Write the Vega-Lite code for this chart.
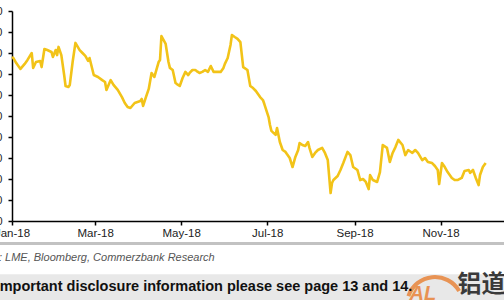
{
  "$schema": "https://vega.github.io/schema/vega-lite/v6.json",
  "width": 492,
  "height": 210,
  "autosize": {"type": "none"},
  "padding": {"left": 12, "top": 11, "right": 0, "bottom": 79},
  "background": "white",
  "config": {"view": {"stroke": null}, "font": "Liberation Sans"},
  "resolve": {"axis": {"x": "independent", "y": "independent"}},
  "layer": [
    {
      "data": {"values": [{}]},
      "mark": {"type": "rect", "fill": "#e8e8e8", "clip": false},
      "encoding": {
        "x": {"datum": {"year": 2017, "month": 11, "date": 1, "utc": true}, "type": "temporal", "axis": null},
        "x2": {"datum": {"year": 2019, "month": 1, "date": 31, "utc": true}},
        "y": {"datum": -25.4, "type": "quantitative", "axis": null},
        "y2": {"datum": -45}
      }
    },
    {
      "data": {"values": [{}]},
      "mark": {"type": "rule", "stroke": "#c2c2c2", "strokeWidth": 3, "clip": false},
      "encoding": {
        "x": {"datum": {"year": 2017, "month": 11, "date": 1, "utc": true}, "type": "temporal", "axis": null},
        "x2": {"datum": {"year": 2019, "month": 1, "date": 31, "utc": true}},
        "y": {"datum": -10.7, "type": "quantitative", "axis": null}
      }
    },
    {
      "data": {"values": [
        {"date": "2018-01-01", "value": 78.1}, {"date": "2018-01-02", "value": 77.6}, {"date": "2018-01-04", "value": 75.2},
        {"date": "2018-01-07", "value": 72.4}, {"date": "2018-01-10", "value": 74.8}, {"date": "2018-01-12", "value": 76.7},
        {"date": "2018-01-15", "value": 80.0}, {"date": "2018-01-16", "value": 72.9}, {"date": "2018-01-18", "value": 75.7},
        {"date": "2018-01-21", "value": 76.2}, {"date": "2018-01-22", "value": 73.3}, {"date": "2018-01-24", "value": 81.9},
        {"date": "2018-01-26", "value": 81.4}, {"date": "2018-01-29", "value": 80.5}, {"date": "2018-01-30", "value": 78.1},
        {"date": "2018-02-01", "value": 81.4}, {"date": "2018-02-02", "value": 79.0}, {"date": "2018-02-03", "value": 82.9},
        {"date": "2018-02-05", "value": 79.0}, {"date": "2018-02-07", "value": 69.5}, {"date": "2018-02-08", "value": 64.3},
        {"date": "2018-02-10", "value": 63.8}, {"date": "2018-02-11", "value": 64.8}, {"date": "2018-02-13", "value": 75.7},
        {"date": "2018-02-15", "value": 84.8}, {"date": "2018-02-18", "value": 81.4}, {"date": "2018-02-20", "value": 80.0},
        {"date": "2018-02-22", "value": 78.6}, {"date": "2018-02-24", "value": 76.2}, {"date": "2018-02-25", "value": 77.6},
        {"date": "2018-02-28", "value": 69.5}, {"date": "2018-03-03", "value": 68.6}, {"date": "2018-03-06", "value": 67.1},
        {"date": "2018-03-08", "value": 66.2}, {"date": "2018-03-09", "value": 62.4}, {"date": "2018-03-12", "value": 67.1},
        {"date": "2018-03-14", "value": 64.8}, {"date": "2018-03-17", "value": 62.4}, {"date": "2018-03-20", "value": 59.0},
        {"date": "2018-03-22", "value": 56.2}, {"date": "2018-03-24", "value": 54.3}, {"date": "2018-03-26", "value": 53.8},
        {"date": "2018-03-29", "value": 56.2}, {"date": "2018-04-02", "value": 57.1}, {"date": "2018-04-03", "value": 58.1},
        {"date": "2018-04-04", "value": 54.8}, {"date": "2018-04-06", "value": 59.0}, {"date": "2018-04-08", "value": 62.9},
        {"date": "2018-04-10", "value": 70.5}, {"date": "2018-04-12", "value": 68.6}, {"date": "2018-04-15", "value": 75.7},
        {"date": "2018-04-16", "value": 76.7}, {"date": "2018-04-17", "value": 88.1}, {"date": "2018-04-20", "value": 84.3},
        {"date": "2018-04-22", "value": 75.7}, {"date": "2018-04-23", "value": 72.9}, {"date": "2018-04-25", "value": 71.9},
        {"date": "2018-04-27", "value": 65.7}, {"date": "2018-04-28", "value": 65.2}, {"date": "2018-04-30", "value": 64.3},
        {"date": "2018-05-02", "value": 68.1}, {"date": "2018-05-04", "value": 71.0}, {"date": "2018-05-06", "value": 69.5},
        {"date": "2018-05-07", "value": 70.5}, {"date": "2018-05-09", "value": 71.9}, {"date": "2018-05-11", "value": 71.9},
        {"date": "2018-05-12", "value": 71.4}, {"date": "2018-05-14", "value": 70.5}, {"date": "2018-05-16", "value": 71.0},
        {"date": "2018-05-18", "value": 71.9}, {"date": "2018-05-20", "value": 71.0}, {"date": "2018-05-22", "value": 73.8},
        {"date": "2018-05-24", "value": 71.0}, {"date": "2018-05-26", "value": 71.0}, {"date": "2018-05-29", "value": 71.0},
        {"date": "2018-05-31", "value": 72.9}, {"date": "2018-06-01", "value": 74.8}, {"date": "2018-06-03", "value": 77.6},
        {"date": "2018-06-05", "value": 83.8}, {"date": "2018-06-06", "value": 88.6}, {"date": "2018-06-08", "value": 87.6},
        {"date": "2018-06-10", "value": 86.7}, {"date": "2018-06-12", "value": 85.2}, {"date": "2018-06-14", "value": 73.3},
        {"date": "2018-06-17", "value": 71.9}, {"date": "2018-06-19", "value": 64.3}, {"date": "2018-06-21", "value": 63.3},
        {"date": "2018-06-23", "value": 61.9}, {"date": "2018-06-26", "value": 59.0}, {"date": "2018-06-28", "value": 57.6},
        {"date": "2018-06-29", "value": 55.7}, {"date": "2018-07-02", "value": 49.5}, {"date": "2018-07-03", "value": 45.7},
        {"date": "2018-07-04", "value": 42.9}, {"date": "2018-07-07", "value": 41.0}, {"date": "2018-07-08", "value": 44.3},
        {"date": "2018-07-10", "value": 37.6}, {"date": "2018-07-12", "value": 33.8}, {"date": "2018-07-14", "value": 32.9},
        {"date": "2018-07-15", "value": 31.9}, {"date": "2018-07-17", "value": 30.0}, {"date": "2018-07-19", "value": 25.7},
        {"date": "2018-07-21", "value": 30.5}, {"date": "2018-07-23", "value": 33.8}, {"date": "2018-07-24", "value": 37.1},
        {"date": "2018-07-26", "value": 36.2}, {"date": "2018-07-28", "value": 35.7}, {"date": "2018-07-30", "value": 37.6},
        {"date": "2018-07-31", "value": 34.8}, {"date": "2018-08-02", "value": 30.5}, {"date": "2018-08-04", "value": 32.4},
        {"date": "2018-08-06", "value": 33.8}, {"date": "2018-08-09", "value": 34.8}, {"date": "2018-08-11", "value": 32.4},
        {"date": "2018-08-13", "value": 29.0}, {"date": "2018-08-15", "value": 13.3}, {"date": "2018-08-16", "value": 18.1},
        {"date": "2018-08-17", "value": 19.5}, {"date": "2018-08-20", "value": 21.4}, {"date": "2018-08-22", "value": 24.3},
        {"date": "2018-08-24", "value": 27.6}, {"date": "2018-08-27", "value": 32.9}, {"date": "2018-08-29", "value": 31.4},
        {"date": "2018-08-31", "value": 25.7}, {"date": "2018-09-03", "value": 24.3}, {"date": "2018-09-05", "value": 19.5},
        {"date": "2018-09-07", "value": 20.0}, {"date": "2018-09-09", "value": 18.6}, {"date": "2018-09-11", "value": 15.2},
        {"date": "2018-09-12", "value": 21.9}, {"date": "2018-09-14", "value": 19.5}, {"date": "2018-09-17", "value": 18.6},
        {"date": "2018-09-19", "value": 23.3}, {"date": "2018-09-21", "value": 36.2}, {"date": "2018-09-24", "value": 34.8},
        {"date": "2018-09-26", "value": 28.1}, {"date": "2018-09-28", "value": 32.4}, {"date": "2018-09-30", "value": 35.2},
        {"date": "2018-10-02", "value": 38.6}, {"date": "2018-10-05", "value": 36.2}, {"date": "2018-10-07", "value": 31.4},
        {"date": "2018-10-09", "value": 33.8}, {"date": "2018-10-12", "value": 32.4}, {"date": "2018-10-14", "value": 33.8},
        {"date": "2018-10-16", "value": 32.4}, {"date": "2018-10-19", "value": 29.0}, {"date": "2018-10-21", "value": 30.0},
        {"date": "2018-10-23", "value": 28.1}, {"date": "2018-10-26", "value": 27.6}, {"date": "2018-10-28", "value": 26.2},
        {"date": "2018-10-30", "value": 24.3}, {"date": "2018-10-31", "value": 17.6}, {"date": "2018-11-02", "value": 27.6},
        {"date": "2018-11-04", "value": 25.7}, {"date": "2018-11-06", "value": 23.3}, {"date": "2018-11-09", "value": 20.5},
        {"date": "2018-11-11", "value": 19.5}, {"date": "2018-11-13", "value": 19.5}, {"date": "2018-11-16", "value": 20.5},
        {"date": "2018-11-18", "value": 23.8}, {"date": "2018-11-21", "value": 24.3}, {"date": "2018-11-22", "value": 22.9},
        {"date": "2018-11-24", "value": 24.3}, {"date": "2018-11-26", "value": 20.5}, {"date": "2018-11-28", "value": 17.1},
        {"date": "2018-11-29", "value": 21.9}, {"date": "2018-12-01", "value": 25.7}, {"date": "2018-12-03", "value": 27.6}
      ]},
      "mark": {"type": "line", "color": "#F2C318", "strokeWidth": 2.6, "strokeJoin": "round"},
      "encoding": {
        "x": {
          "field": "date", "type": "temporal", "title": null,
          "scale": {"type": "utc", "domain": [{"year": 2018, "month": 1, "date": 1, "utc": true}, {"year": 2018, "month": 12, "date": 16, "utc": true}]},
          "axis": {
            "values": [
              {"year": 2018, "month": 1, "date": 1, "utc": true},
              {"year": 2018, "month": 3, "date": 1, "utc": true},
              {"year": 2018, "month": 5, "date": 1, "utc": true},
              {"year": 2018, "month": 7, "date": 1, "utc": true},
              {"year": 2018, "month": 9, "date": 1, "utc": true},
              {"year": 2018, "month": 11, "date": 1, "utc": true}
            ],
            "labelExpr": "utcFormat(datum.value, '%b-%y')",
            "grid": false, "domainColor": "#000000", "domainWidth": 1.5,
            "tickColor": "#000000", "tickWidth": 1.5, "tickSize": 4,
            "labelPadding": 2, "labelFontSize": 11.5, "labelColor": "#222222",
            "labelFont": "Liberation Sans", "labelFlush": false, "labelOverlap": false
          }
        },
        "y": {
          "field": "value", "type": "quantitative", "title": null,
          "scale": {"domain": [0, 100], "zero": false, "nice": false},
          "axis": {
            "values": [0, 10, 20, 30, 40, 50, 60, 70, 80, 90, 100],
            "grid": false, "domainColor": "#000000", "domainWidth": 1.5,
            "tickColor": "#000000", "tickWidth": 1.5, "tickSize": 4,
            "labelPadding": 6, "labelFontSize": 11, "labelColor": "#222222",
            "labelFont": "Liberation Sans", "labelOverlap": false
          }
        }
      }
    },
    {
      "data": {"values": [{}]},
      "mark": {"type": "text", "text": "Source: LME, Bloomberg, Commerzbank Research", "align": "left", "baseline": "middle",
               "font": "Liberation Sans", "fontSize": 11, "fontStyle": "italic", "color": "#555555", "clip": false},
      "encoding": {
        "x": {"datum": {"year": 2017, "month": 11, "date": 28, "utc": true}, "type": "temporal", "axis": null},
        "y": {"datum": -17.6, "type": "quantitative", "axis": null}
      }
    },
    {
      "data": {"values": [{}]},
      "mark": {"type": "arc", "radius": 30, "radius2": 26, "theta": -1.25, "theta2": 1.05, "fill": "#E8843A", "opacity": 0.85, "clip": false},
      "encoding": {
        "x": {"datum": {"year": 2018, "month": 10, "date": 28, "utc": true}, "type": "temporal", "axis": null},
        "y": {"datum": -40, "type": "quantitative", "axis": null}
      }
    },
    {
      "data": {"values": [{}]},
      "mark": {"type": "text", "text": "AL", "align": "left", "baseline": "alphabetic",
               "font": "Liberation Sans", "fontSize": 20, "fontStyle": "italic", "fontWeight": "bold", "color": "#E8843A", "opacity": 0.85, "clip": false},
      "encoding": {
        "x": {"datum": {"year": 2018, "month": 10, "date": 10, "utc": true}, "type": "temporal", "axis": null},
        "y": {"datum": -37.5, "type": "quantitative", "axis": null}
      }
    },
    {
      "data": {"values": [{}]},
      "mark": {"type": "text", "text": "For important disclosure information please see page 13 and 14.", "align": "left", "baseline": "middle",
               "font": "Liberation Sans", "fontSize": 14.5, "fontWeight": "bold", "color": "#111111", "clip": false},
      "encoding": {
        "x": {"datum": {"year": 2017, "month": 12, "date": 1, "utc": true}, "type": "temporal", "axis": null},
        "y": {"datum": -31.4, "type": "quantitative", "axis": null}
      }
    },
    {
      "data": {"values": [{}]},
      "mark": {"type": "text", "text": "铝道", "align": "left", "baseline": "top",
               "font": "Noto Sans CJK SC", "fontSize": 24, "fontWeight": "bold", "color": "#3a3a3a", "clip": false},
      "encoding": {
        "x": {"datum": {"year": 2018, "month": 11, "date": 13, "utc": true}, "type": "temporal", "axis": null},
        "y": {"datum": -24.8, "type": "quantitative", "axis": null}
      }
    }
  ]
}
